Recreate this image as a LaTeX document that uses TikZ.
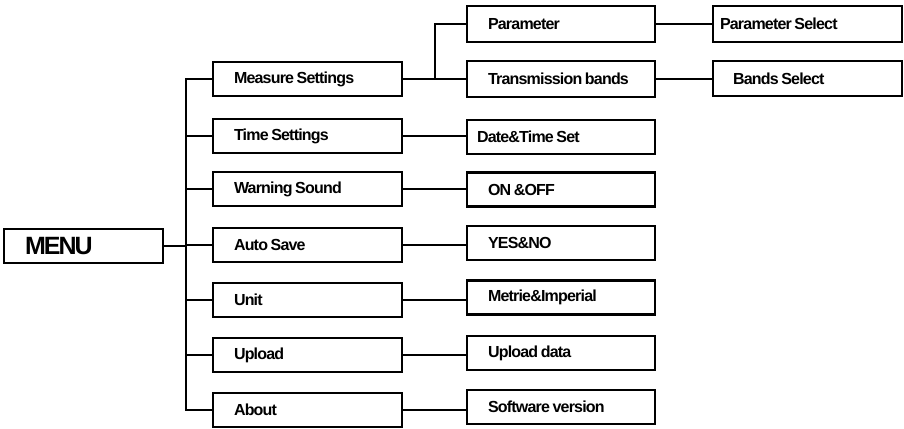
\documentclass[tikz,border=0pt]{standalone}
\usepackage{fontspec}
\setmainfont{Liberation Sans}
\newfontfamily\boxfont[LetterSpace=-5]{Liberation Sans}
\newfontfamily\menufont[LetterSpace=-8]{Liberation Sans}
\newcommand\tightsp{\spaceskip=2.6pt\relax}
\begin{document}
\begin{tikzpicture}[x=1pt,y=-1pt,
  line width=2.8pt,
  box/.style={draw, rectangle, line width=2.8pt, minimum height=34pt, inner ysep=0pt,
    align=left, font=\boxfont\fontsize{16}{18}\selectfont\bfseries,
    execute at begin node=\tightsp},
  lone/.style={box, minimum width=189pt, text width=147pt, inner xsep=21pt},
  ltwo/.style={box, minimum width=188pt, text width=146pt, inner xsep=21pt},
  lthree/.style={box, minimum width=189pt},
  conn/.style={line width=2.8pt, line join=miter}
]
\useasboundingbox (0,0) rectangle (904,428);
% root
\node[box, minimum width=159pt, text width=117pt, inner xsep=21pt,
      font=\menufont\fontsize{25}{27}\selectfont\bfseries] (menu) at (83.5,246) {MENU};
% level 1
\node[lone] (ms) at (307.5,79) {Measure Settings};
\node[lone] (ts) at (307.5,136) {Time Settings};
\node[lone] (ws) at (307.5,189) {Warning Sound};
\node[lone] (as) at (307.5,245) {Auto Save};
\node[lone] (un) at (307.5,300) {Unit};
\node[lone] (up) at (307.5,355) {Upload};
\node[lone] (ab) at (307.5,410) {About};
% level 2
\node[ltwo, minimum height=36pt] (pa) at (561,24) {Parameter};
\node[ltwo, minimum height=36pt] (tb) at (561,79) {Transmission bands};
\node[ltwo, text width=168pt, inner xsep=10pt] (dt) at (561,137) {Date\&Time Set};
\node[ltwo] (oo) at (561,189.5) {ON \&OFF};
\node[ltwo] (yn) at (561,243) {YES\&NO};
\node[ltwo] (mi) at (561,297.5) {Metrie\&Imperial};
\node[ltwo] (ud) at (561,353) {Upload data};
\node[ltwo] (sv) at (561,407) {Software version};
% level 3
\node[lthree, minimum height=36pt, text width=175pt, inner xsep=7pt] (ps) at (807.5,24) {Parameter Select};
\node[lthree, minimum height=35pt, text width=149pt, inner xsep=20pt] (bs) at (807.5,78.5) {Bands Select};
% trunk
\coordinate (tk) at (186,0);
\coordinate (br) at (435,0);
\draw[conn] (ms.west) -| (ab.west -| tk) -- (ab.west);
\draw[conn] (menu.east) -- (menu.east -| tk);
\foreach \n in {ts,ws,as,un,up}{\draw[conn] (\n.west) -- (\n.west -| tk);}
% level 1 to 2
\draw[conn] (ms.east) -- (ms.east -| tb.west);
\draw[conn] (ms.east -| br) |- (pa.west);
\draw[conn] (ts.east) -- (ts.east -| dt.west);
\draw[conn] (ws.east) -- (ws.east -| oo.west);
\draw[conn] (as.east) -- (as.east -| yn.west);
\draw[conn] (un.east) -- (un.east -| mi.west);
\draw[conn] (up.east) -- (up.east -| ud.west);
\draw[conn] (ab.east) -- (ab.east -| sv.west);
% level 2 to 3
\draw[conn] (pa.east) -- (pa.east -| ps.west);
\draw[conn] (tb.east) -- (tb.east -| bs.west);
\end{tikzpicture}
\end{document}
